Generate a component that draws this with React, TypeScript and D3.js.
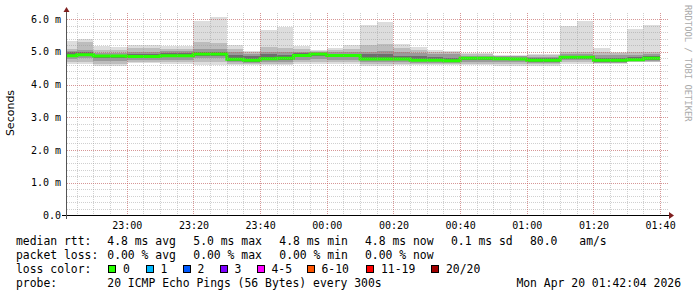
import React from "react";
import * as d3 from "d3";

const W = 697;
const H = 297;

// time window of the graph (3 hours)
const START = new Date(2026, 3, 19, 22, 42, 4);
const END = new Date(2026, 3, 20, 1, 42, 4);
const FIRST_STEP_END = new Date(2026, 3, 19, 22, 45, 0);
const STEP_MIN = 5;

// per 5-minute step (ending 22:45 ... 01:40), values in ms
const rttMax = [5.33, 5.38, 5.18, 5.14, 5.2, 5.2, 5.17, 5.17, 5.95, 6.07, 5.2, 5.03, 5.66, 5.76, 5.17, 5.07, 5.13, 5.2, 5.82, 5.92, 5.23, 5.15, 5.07, 5.03, 4.97, 4.95, 4.9, 4.9, 4.92, 4.92, 5.79, 5.95, 5.12, 5.0, 5.69, 5.82];
const rttHi2 = [5.08, 5.3, 5.05, 5.05, 5.12, 5.12, 5.1, 5.1, 5.3, 5.28, 5.08, 4.98, 5.15, 5.12, 5.1, 5.02, 5.06, 5.08, 5.2, 5.25, 5.12, 5.05, 5.0, 4.98, 4.93, 4.92, 4.88, 4.88, 4.89, 4.89, 5.0, 5.0, 5.0, 4.96, 4.98, 5.0];
const rttHi3 = [5.02, 5.05, 4.95, 4.95, 5.0, 5.0, 5.02, 5.02, 5.1, 5.1, 4.98, 4.92, 5.0, 5.0, 5.0, 4.98, 5.0, 5.0, 5.0, 5.02, 4.98, 4.96, 4.94, 4.92, 4.88, 4.88, 4.86, 4.86, 4.85, 4.85, 4.92, 4.92, 4.9, 4.9, 4.9, 4.92];
const rttHi4 = [4.98, 5.0, 4.9, 4.9, 4.94, 4.94, 4.96, 4.96, 5.0, 5.0, 4.9, 4.86, 4.92, 4.9, 4.95, 4.95, 4.94, 4.94, 4.92, 4.92, 4.88, 4.86, 4.84, 4.82, 4.84, 4.84, 4.82, 4.82, 4.8, 4.8, 4.87, 4.87, 4.82, 4.82, 4.84, 4.86];
const rttMedian = [4.88, 4.91, 4.87, 4.87, 4.86, 4.86, 4.88, 4.88, 4.93, 4.93, 4.77, 4.74, 4.79, 4.8, 4.89, 4.93, 4.89, 4.89, 4.78, 4.78, 4.78, 4.74, 4.74, 4.73, 4.8, 4.8, 4.79, 4.78, 4.74, 4.74, 4.83, 4.83, 4.74, 4.74, 4.76, 4.8];
const rttLo4 = [4.84, 4.87, 4.8, 4.8, 4.82, 4.82, 4.84, 4.84, 4.88, 4.88, 4.73, 4.7, 4.75, 4.76, 4.84, 4.86, 4.84, 4.84, 4.74, 4.74, 4.74, 4.71, 4.71, 4.7, 4.75, 4.75, 4.74, 4.74, 4.7, 4.7, 4.78, 4.78, 4.7, 4.7, 4.74, 4.76];
const rttLo3 = [4.78, 4.8, 4.72, 4.72, 4.76, 4.76, 4.76, 4.76, 4.8, 4.8, 4.68, 4.66, 4.7, 4.7, 4.76, 4.78, 4.76, 4.76, 4.68, 4.68, 4.7, 4.67, 4.67, 4.66, 4.7, 4.7, 4.68, 4.68, 4.66, 4.66, 4.74, 4.74, 4.67, 4.67, 4.72, 4.73];
const rttLo2 = [4.7, 4.7, 4.64, 4.64, 4.7, 4.7, 4.68, 4.68, 4.7, 4.7, 4.64, 4.62, 4.64, 4.64, 4.68, 4.68, 4.68, 4.68, 4.62, 4.62, 4.64, 4.63, 4.63, 4.62, 4.64, 4.64, 4.62, 4.62, 4.62, 4.62, 4.68, 4.68, 4.65, 4.65, 4.7, 4.7];
const rttMin = [4.64, 4.64, 4.56, 4.56, 4.66, 4.66, 4.64, 4.64, 4.61, 4.61, 4.59, 4.59, 4.59, 4.59, 4.62, 4.62, 4.62, 4.62, 4.56, 4.56, 4.59, 4.59, 4.59, 4.59, 4.59, 4.59, 4.58, 4.58, 4.58, 4.58, 4.62, 4.62, 4.64, 4.64, 4.68, 4.68];

const yTicks = [0, 1, 2, 3, 4, 5, 6];
const yTickLabels = ["0.0", "1.0 m", "2.0 m", "3.0 m", "4.0 m", "5.0 m", "6.0 m"];

const lossColors = ["#26ff00", "#00b8ff", "#0059ff", "#7e00ff", "#ff00ff", "#ff5500", "#ff0000", "#a00000"];
const lossLabels = ["0", "1", "2", "3", "4-5", "6-10", "11-19", "20/20"];
const lossLabelX = [108, 145.5, 182.5, 219.5, 256.5, 306.5, 366, 431];

const rttLine = [
  { x: 16, t: "median rtt:" },
  { x: 107.3, t: "4.8 ms avg" },
  { x: 193.3, t: "5.0 ms max" },
  { x: 279.3, t: "4.8 ms min" },
  { x: 365, t: "4.8 ms now" },
  { x: 451, t: "0.1 ms sd" },
  { x: 530, t: "80.0" },
  { x: 579.3, t: "am/s" },
];
const lossLine = [
  { x: 16, t: "packet loss:" },
  { x: 107.3, t: "0.00 % avg" },
  { x: 193.3, t: "0.00 % max" },
  { x: 279.3, t: "0.00 % min" },
  { x: 365, t: "0.00 % now" },
];

const smokeLayers = [
  { hi: rttMax, lo: rttMin, color: "#dddddd" },
  { hi: rttHi2, lo: rttLo2, color: "#bdbdbd" },
  { hi: rttHi3, lo: rttLo3, color: "#9a9a9a" },
  { hi: rttHi4, lo: rttLo4, color: "#6e6e6e" },
];

const MONO = "'DejaVu Sans Mono', 'Liberation Mono', monospace";

export default function App() {
  const left = 67;
  const right = 667;
  const x = d3.scaleTime().domain([START, END]).range([left, right]);
  const y = d3.scaleLinear().domain([0, 6]).range([215.3, 19.1]);
  const plotTop = y(6.19);
  const plotBottom = y(0);

  const ends = rttMedian.map((_, i) => d3.timeMinute.offset(FIRST_STEP_END, STEP_MIN * i));
  const starts = ends.map((e) => d3.timeMinute.offset(e, -STEP_MIN));

  const minorX = d3.timeMinute.every(5)!.range(START, END);
  const majorX = d3.timeMinute.every(20)!.range(START, END);
  const minorY = d3.range(0, 31).map((k) => k / 5).filter((v) => v <= 6.19);

  const pts: [Date, number][] = rttMedian.map((m, i) => [starts[i], m]);
  pts.push([ends[ends.length - 1], rttMedian[rttMedian.length - 1]]);
  const medianPath = d3
    .line<[Date, number]>()
    .x((d) => x(d[0]))
    .y((d) => y(d[1]))
    .curve(d3.curveStepAfter)(pts) as string;

  const fmt = d3.timeFormat("%H:%M");
  const px = (v: number) => Math.round(v) + 0.5;

  return (
    <svg width={W} height={H} style={{ position: "fixed", left: 0, top: 0, display: "block" }} xmlns="http://www.w3.org/2000/svg">
      <rect x={0} y={0} width={W} height={H} fill="#ffffff" />
      <defs>
        <clipPath id="plot">
          <rect x={left} y={plotTop} width={right - left} height={plotBottom - plotTop} />
        </clipPath>
      </defs>
      <g clipPath="url(#plot)" shapeRendering="crispEdges">
        {smokeLayers.map((L, li) => (
          <g key={li} fill={L.color}>
            {ends.map((e, i) => (
              <rect
                key={i}
                x={x(starts[i])}
                width={x(e) - x(starts[i])}
                y={y(L.hi[i])}
                height={y(L.lo[i]) - y(L.hi[i])}
              />
            ))}
          </g>
        ))}
      </g>
      <g clipPath="url(#plot)">
        <path d={medianPath} fill="none" stroke={lossColors[0]} strokeWidth={3} />
      </g>
      {/* grid */}
      <g shapeRendering="crispEdges" strokeDasharray="1,1" fill="none">
        {minorY.map((v, i) => (
          <line key={"hy" + i} x1={left} x2={right + 1} y1={px(y(v))} y2={px(y(v))} stroke="rgba(150,150,150,0.45)" />
        ))}
        {minorX.map((t, i) => (
          <line key={"vx" + i} x1={px(x(t))} x2={px(x(t))} y1={plotTop} y2={plotBottom} stroke="rgba(150,150,150,0.45)" />
        ))}
        {yTicks.filter((v) => v > 0).map((v, i) => (
          <line key={"my" + i} x1={left} x2={right + 1} y1={px(y(v))} y2={px(y(v))} stroke="rgba(222,80,80,0.45)" />
        ))}
        {majorX.map((t, i) => (
          <line key={"mx" + i} x1={px(x(t))} x2={px(x(t))} y1={plotTop} y2={plotBottom} stroke="rgba(222,80,80,0.45)" />
        ))}
      </g>
      {/* axes */}
      <g shapeRendering="crispEdges">
        <line x1={62} x2={669} y1={215.5} y2={215.5} stroke="#000000" />
        <line x1={66.5} x2={66.5} y1={219} y2={10} stroke="#555555" />
      </g>
      <path d="M669,212 L674,215.5 L669,219 Z" fill="#7f1f1f" />
      <path d="M63.5,12 L66.5,7 L69.5,12 Z" fill="#7f1f1f" />
      {/* y tick labels */}
      <g fontFamily={MONO} fontSize={10} fill="#000" textAnchor="end">
        {yTicks.map((v, i) => (
          <text key={i} x={61} y={y(v) + 3.6}>
            {yTickLabels[i]}
          </text>
        ))}
      </g>
      {/* x tick labels */}
      <g fontFamily={MONO} fontSize={10} fill="#000" textAnchor="middle">
        {majorX.map((t, i) => (
          <text key={i} x={x(t) + 0.5} y={228.5}>
            {fmt(t)}
          </text>
        ))}
      </g>
      <text
        transform="translate(14,113) rotate(-90)"
        textAnchor="middle"
        fontFamily="'DejaVu Sans', sans-serif"
        fontSize={11}
        fill="#000"
      >
        Seconds
      </text>
      <text
        transform="translate(685,5) rotate(90)"
        fontFamily={MONO}
        fontSize={8.8}
        fill="#aaaaaa"
      >
        RRDTOOL / TOBI OETIKER
      </text>
      {/* legend */}
      <g fontFamily={MONO} fontSize={11.4} fill="#000" style={{ whiteSpace: "pre" }}>
        {rttLine.map((s, i) => (
          <text key={"r" + i} x={s.x} y={245}>
            {s.t}
          </text>
        ))}
        {lossLine.map((s, i) => (
          <text key={"l" + i} x={s.x} y={259}>
            {s.t}
          </text>
        ))}
        <text x={16} y={273}>loss color:</text>
        {lossColors.map((c, i) => (
          <g key={"lc" + i}>
            <rect x={lossLabelX[i] + 0.5} y={265.5} width={7} height={7} fill={c} stroke="#000" shapeRendering="crispEdges" />
            <text x={lossLabelX[i] + 15} y={273}>
              {lossLabels[i]}
            </text>
          </g>
        ))}
        <text x={16} y={287}>probe:</text>
        <text x={107.3} y={287}>20 ICMP Echo Pings (56 Bytes) every 300s</text>
        <text x={681} y={287} textAnchor="end">
          Mon Apr 20 01:42:04 2026
        </text>
      </g>
    </svg>
  );
}
